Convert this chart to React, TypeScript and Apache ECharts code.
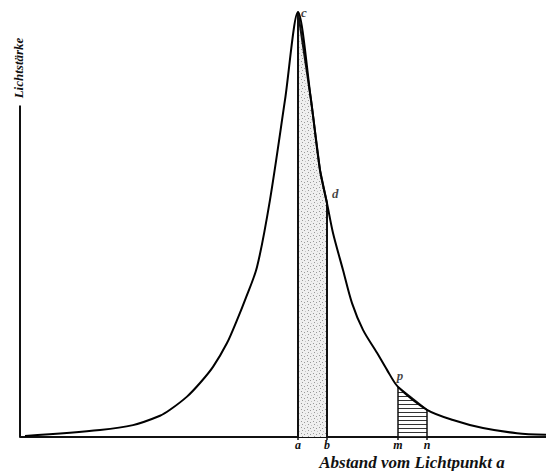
import React, { useEffect, useRef } from "react";
import * as echarts from "echarts";

// Light intensity on a plane, plotted against the distance from the foot point a
const distance = [-27.3, -19.8, -16.5, -13.8, -12.8, -11.1, -9.8, -8.5, -7.1, -6.1, -5.3, -4.1, -2.8, -1.3, 0, 1.3, 2.2, 2.9, 3.5, 4.5, 5.4, 6.5, 7.9, 8.9, 10.0, 12.9, 15.5, 18.5, 21.9, 24.8];
const intensity = [0.24, 1.65, 2.8, 5.0, 6.4, 9.5, 12.7, 16.5, 22.1, 27.5, 32.2, 40, 55.8, 79.3, 100, 79.3, 62.8, 55, 48, 39.3, 31.5, 25.2, 19.8, 15.8, 11.8, 6.4, 4, 2.1, 0.9, 0.5];

// strip a–b (stippled) and strip m–n (hatched)
const stripAB = { from: 0, to: 2.9 };
const stripMN = { from: 10.0, to: 12.9 };

// foot markers on the distance axis
const tickValues = [0, 2.9, 10.0, 12.9];
const tickNames = ["a", "b", "m", "n"];

// lettered points on the curve
const pointNames = ["c", "d", "p"];
const pointX = [0, 2.9, 10.0];
const pointY = [100, 55, 11.8];

const xMin = -27.8;
const xMax = 24.8;
const yAxisTop = 78;

function stripData(from: number, to: number) {
  const pts: number[][] = [[from, 0]];
  distance.forEach((d, i) => {
    if (d >= from && d <= to) pts.push([d, intensity[i]]);
  });
  pts.push([to, 0]);
  return pts;
}

function makePattern(kind: "dots" | "hatch") {
  const c = document.createElement("canvas");
  if (kind === "dots") {
    c.width = 6;
    c.height = 6;
    const g = c.getContext("2d")!;
    g.fillStyle = "#efefef";
    g.fillRect(0, 0, 6, 6);
    g.fillStyle = "#9a9a9a";
    g.fillRect(1, 1, 1, 1);
    g.fillRect(4, 2, 1, 1);
    g.fillRect(2, 4, 1, 1);
    g.fillStyle = "#c4c4c4";
    g.fillRect(5, 5, 1, 1);
  } else {
    c.width = 4;
    c.height = 4;
    const g = c.getContext("2d")!;
    g.fillStyle = "#ffffff";
    g.fillRect(0, 0, 4, 4);
    g.fillStyle = "#333333";
    g.fillRect(0, 0, 4, 1);
  }
  return { image: c, repeat: "repeat", imageWidth: c.width, imageHeight: c.height } as any;
}

export default function App() {
  const ref = useRef<HTMLDivElement>(null);

  useEffect(() => {
    document.body.style.margin = "0";
    if (!ref.current) return;
    const chart = echarts.init(ref.current, null, { renderer: "svg" });
    const curve = distance.map((d, i) => [d, intensity[i]]);
    const handFont = "'Liberation Serif', 'DejaVu Serif', serif";

    chart.setOption({
      animation: false,
      backgroundColor: "#ffffff",
      grid: { left: 20, right: 0, top: 12, bottom: 34 },
      xAxis: {
        type: "value",
        min: xMin,
        max: xMax,
        splitLine: { show: false },
        axisLine: { show: true, onZero: false, lineStyle: { color: "#111", width: 2 } },
        axisTick: { show: true, customValues: tickValues, length: 3, lineStyle: { color: "#111", width: 1.5 } },
        axisLabel: {
          show: true,
          customValues: tickValues,
          margin: 2,
          formatter: (v: number) => {
            const i = tickValues.findIndex((t) => Math.abs(t - v) < 1e-6);
            return i >= 0 ? tickNames[i] : "";
          },
          color: "#111",
          fontFamily: handFont,
          fontStyle: "italic",
          fontWeight: "bold",
          fontSize: 12,
        },
      },
      yAxis: {
        type: "value",
        min: 0,
        max: 100,
        show: false,
      },
      graphic: [
        {
          type: "text",
          x: 18,
          y: 68,
          rotation: Math.PI / 2,
          style: {
            text: "Lichtstärke",
            fill: "#111",
            font: `italic bold 13px ${handFont}`,
            align: "center",
            verticalAlign: "middle",
          },
        },
        {
          type: "text",
          x: 412,
          y: 462,
          style: {
            text: "Abstand vom Lichtpunkt a",
            fill: "#111",
            font: `italic bold 17px ${handFont}`,
            align: "center",
            verticalAlign: "middle",
          },
        },
      ],
      series: [
        {
          name: "a–b",
          type: "line",
          data: stripData(stripAB.from, stripAB.to),
          symbol: "none",
          smooth: false,
          lineStyle: { color: "#111", width: 2 },
          areaStyle: { color: makePattern("dots"), opacity: 1 },
          z: 2,
        },
        {
          name: "m–n",
          type: "line",
          data: stripData(stripMN.from, stripMN.to),
          symbol: "none",
          smooth: false,
          lineStyle: { color: "#111", width: 1.5 },
          areaStyle: { color: makePattern("hatch"), opacity: 1 },
          z: 2,
        },
        {
          name: "Lichtstärke",
          type: "line",
          data: curve,
          symbol: "none",
          smooth: 0.3,
          lineStyle: { color: "#000", width: 2 },
          z: 3,
        },
        {
          name: "y-Achse",
          type: "line",
          data: [[xMin, 0], [xMin, yAxisTop]],
          symbol: "none",
          clip: false,
          lineStyle: { color: "#111", width: 2 },
          z: 3,
        },
        {
          name: "Punkte",
          type: "scatter",
          symbolSize: 0,
          z: 4,
          data: pointNames.map((n, i) => ({
            name: n,
            value: [pointX[i], pointY[i]],
            label: {
              show: true,
              formatter: n,
              position: i === 2 ? "top" : "right",
              offset: i === 0 ? [-2, 0] : i === 1 ? [0, -10] : [2, 0],
              color: "#111",
              fontFamily: handFont,
              fontStyle: "italic",
              fontWeight: "bold",
              fontSize: 13,
            },
          })),
        },
      ],
    });

    return () => chart.dispose();
  }, []);

  return <div ref={ref} style={{ width: 546, height: 471 }} />;
}
